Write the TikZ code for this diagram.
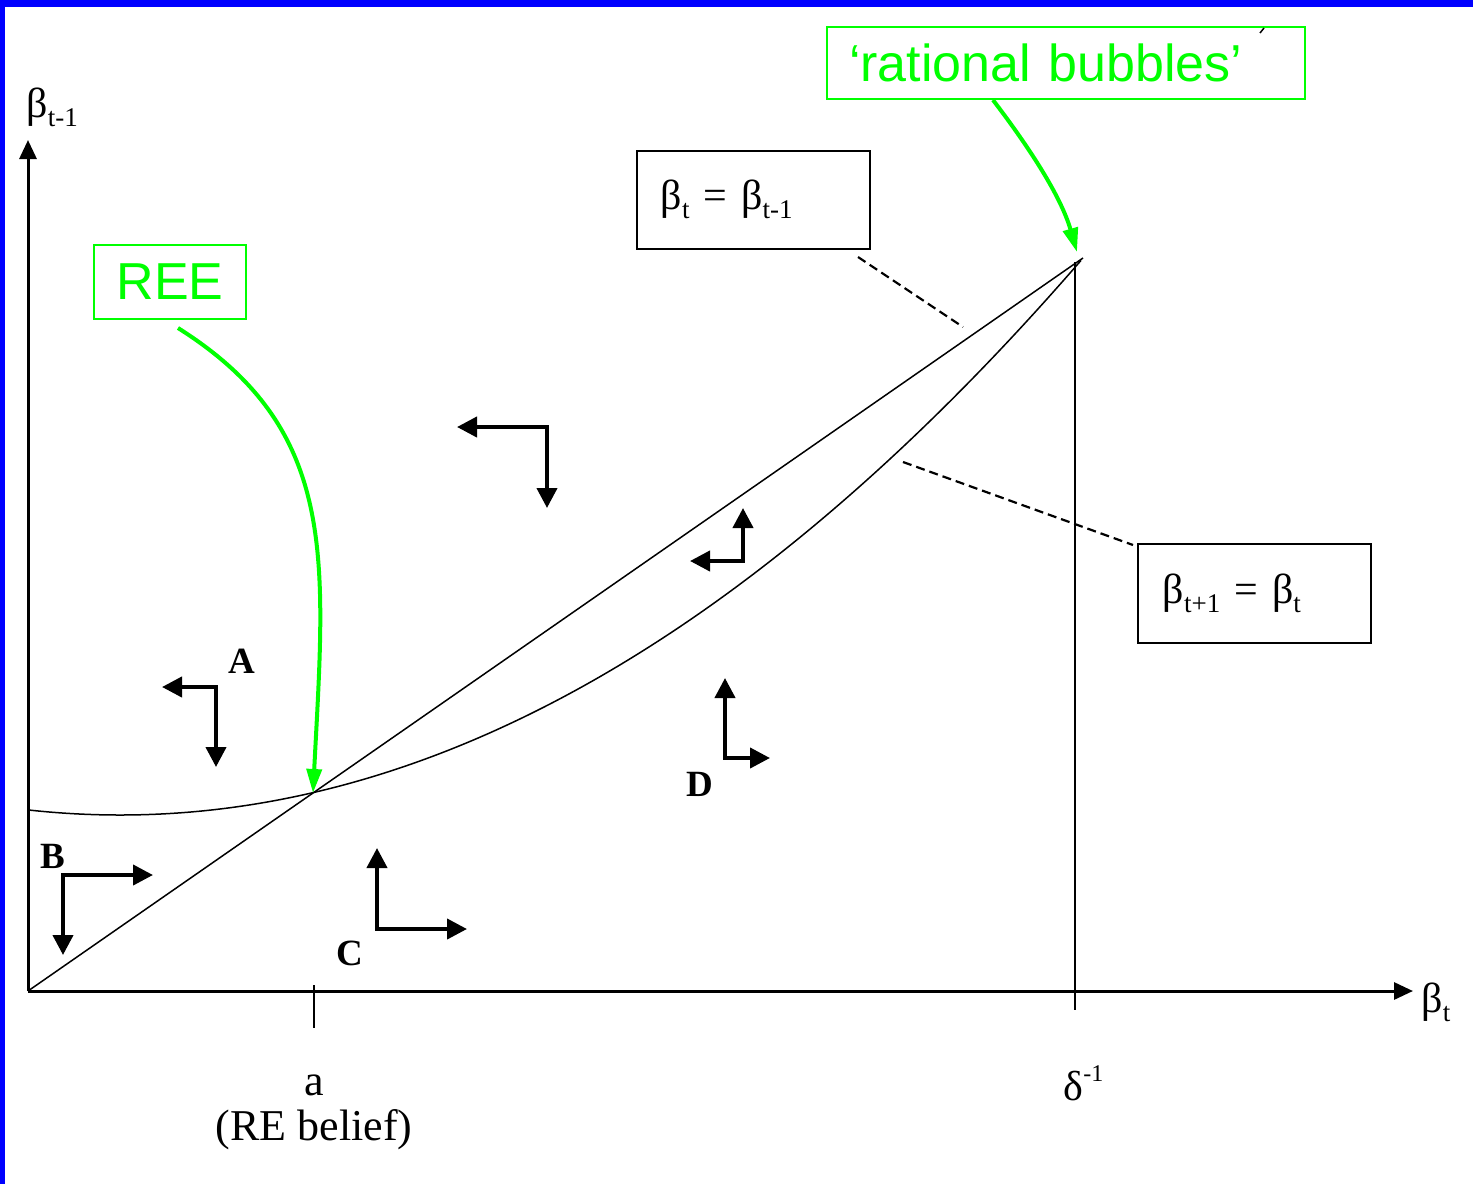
\documentclass[tikz,border=0pt]{standalone}
\usepackage{fontspec}
\setmainfont{Liberation Serif}
\newfontfamily\arialf{Liberation Sans}
\usetikzlibrary{arrows.meta,calc}
\definecolor{brightgreen}{RGB}{0,255,0}
\definecolor{slideblue}{RGB}{0,0,255}
\newcommand\lsub[1]{\raisebox{-9pt}{\fontsize{27}{27}\selectfont #1}}
\newcommand\lsup[1]{\raisebox{19pt}{\fontsize{24}{24}\selectfont #1}}
\tikzset{
  axisline/.style={line width=3pt,-{Triangle[length=19pt,width=17pt]}},
  thinline/.style={line width=1.5pt},
  dashline/.style={line width=2.2pt,dash pattern=on 9pt off 5pt},
  dirarrow/.style={line width=4pt,line join=miter,
     arrows={Triangle[length=20pt,width=20pt]-Triangle[length=20pt,width=20pt]}},
  garrow/.style={line width=4pt,draw=brightgreen,-{Triangle[length=24pt,width=15pt]}},
  gbox/.style={draw=brightgreen,line width=2pt,text=brightgreen,font=\arialf\fontsize{52}{52}\selectfont},
  eqbox/.style={draw,line width=1.5pt,font=\fontsize{42}{42}\selectfont,align=left},
  serif/.style={font=\fontsize{44}{44}\selectfont},
  lab/.style={font=\bfseries\fontsize{37}{37}\selectfont},
}
\begin{document}
\begin{tikzpicture}[x=1pt,y=-1pt]
\useasboundingbox (0,0) rectangle (1473,1184);
\fill[white] (0,0) rectangle (1473,1184);
\fill[slideblue] (0,0) rectangle (1473,7);
\fill[slideblue] (0,0) rectangle (5,1184);

% axes
\coordinate (O) at (28,991);
\coordinate (ytip) at (28,140);
\coordinate (xtip) at (1413,991);
\draw[axisline] (O) -- (ytip);
\draw[axisline] (O) -- (xtip);
\node[anchor=base west,font=\fontsize{42}{42}\selectfont] (ylab) at (23,117) {β\lsub{t-1}};
\node[anchor=base west,font=\fontsize{42}{42}\selectfont] (xlab) at (1418,1012) {β\lsub{t}};

% ticks and labels
\coordinate (atop) at (314,985);
\coordinate (abot) at (314,1028);
\draw[thinline] (atop) -- (abot);
\node[serif,anchor=base] (alab) at (314,1095) {a};
\node[serif,anchor=base] (relab) at (314,1140) {(RE belief)};
\coordinate (dtopv) at (1075,262);
\coordinate (dbotv) at (1075,1010);
\draw[thinline] (dtopv) -- (dbotv);
\node[anchor=base west,font=\fontsize{42}{42}\selectfont] (dlab) at (1060,1100) {δ\lsup{-1}};

% diagonal and curve
\coordinate (dtop) at (1083,258);
\draw[thinline] (O) -- (dtop);
\draw[thinline] plot[domain=28:1081,samples=150,smooth] (\x,{815-(0.0245*(\x-120))^2});

% equation boxes
\node[eqbox,anchor=north west,text width=185pt,inner xsep=24pt,minimum height=98pt] (box1) at (636,150) {β\lsub{t} = β\lsub{t-1}};
\node[eqbox,anchor=north west,text width=183pt,inner xsep=25pt,minimum height=99pt] (box2) at (1137,543) {β\lsub{t+1} = β\lsub{t}};
\coordinate (d1s) at (858,257);
\coordinate (d1e) at (963,327);
\draw[dashline] (d1s) -- (d1e);
\coordinate (d2s) at (903,462);
\coordinate (d2e) at (1133,545);
\draw[dashline] (d2s) -- (d2e);

% green boxes and arrows
\node[gbox,anchor=north west,minimum width=152pt,minimum height=74pt,inner sep=0pt] (ree) at (93,244) {REE};
\node[gbox,anchor=north west,text width=434pt,inner xsep=22pt,inner ysep=0pt,minimum height=72pt,align=left] (rb) at (826,26) {‘rational bubbles’};
\draw[line width=1.5pt] (1260,33) -- (1264,28);
\coordinate (rees) at (178,328);
\coordinate (reee) at (313,793);
\draw[garrow] (rees) .. controls (340,430) and (325,560) .. (reee);
\coordinate (rbs) at (993,100);
\coordinate (rbe) at (1077,252);
\draw[garrow] (rbs) .. controls (1035,155) and (1062,200) .. (rbe);

% direction arrows
\coordinate (c1) at (547,427);
\draw[dirarrow] (457,427) -- (c1) -- (547,508);
\coordinate (cA) at (216,687);
\draw[dirarrow] (162,687) -- (cA) -- (216,767);
\coordinate (cB) at (63,875);
\draw[dirarrow] (153,875) -- (cB) -- (63,955);
\coordinate (cC) at (377,929);
\draw[dirarrow] (377,848) -- (cC) -- (467,929);
\coordinate (cD) at (725,758);
\draw[dirarrow] (725,678) -- (cD) -- (770,758);
\coordinate (cE) at (743,561);
\draw[dirarrow] (743,508) -- (cE) -- (690,561);

% region labels
\node[lab] (labA) at (242,661) {A};
\node[lab] (labB) at (53,856) {B};
\node[lab] (labC) at (350,953) {C};
\node[lab] (labD) at (700,784) {D};
\end{tikzpicture}
\end{document}
